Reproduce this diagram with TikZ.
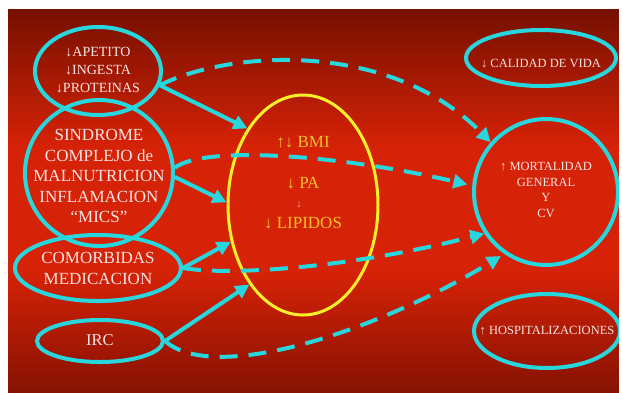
\documentclass[tikz,border=0pt]{standalone}
\usepackage{fontspec}
\setmainfont{Liberation Serif}
\usetikzlibrary{shapes.geometric,arrows.meta}

\definecolor{ringcyan}{RGB}{40,215,222}
\definecolor{ovalyellow}{RGB}{250,240,40}
\definecolor{txtyellow}{RGB}{240,195,40}
\definecolor{txtwhite}{RGB}{248,228,228}
\definecolor{txtpink}{RGB}{240,160,170}
\definecolor{slidetop}{RGB}{118,16,0}
\definecolor{slidemid}{RGB}{214,34,6}
\definecolor{slidebot}{RGB}{135,18,2}

\begin{document}
\begin{tikzpicture}[x=1pt,y=-1pt,
  ring/.style={draw=ringcyan,line width=4pt,ellipse,inner sep=0pt},
  lbl/.style={text=txtwhite,align=center},
  ylbl/.style={text=txtyellow,font=\fontsize{17}{20}\selectfont},
  link/.style={draw=ringcyan,line width=4pt,-{Triangle[length=14pt,width=14pt]}},
  dlink/.style={link,dash pattern=on 18pt off 11pt}]
  \useasboundingbox (0,0) rectangle (623,392);
  \fill[white] (0,0) rectangle (623,392);
  % slide background, dark at top and bottom
  \fill[slidemid] (8,150) rectangle (619,272);
  \foreach \s in {0,...,46}{
    \pgfmathtruncatemacro\p{100-\s*100/46}
    \fill[slidetop!\p!slidemid] (8,{9+3*\s}) rectangle (619,{12.5+3*\s});
  }
  \foreach \s in {0,...,40}{
    \pgfmathtruncatemacro\p{\s*100/40}
    \fill[slidebot!\p!slidemid] (8,{270+3*\s}) rectangle (619,{273.5+3*\s});
  }
  \begin{scope}
  \clip (8,9) rectangle (619,392);
  % left side
  \node[ring,minimum width=126pt,minimum height=88pt] (apet) at (98,71) {};
  \node[lbl,font=\fontsize{14}{18}\selectfont] (apettxt) at (98,70) {↓APETITO\\↓INGESTA\\↓PROTEINAS};
  \node[ring,minimum width=148pt,minimum height=146pt] (sind) at (99,173) {};
  \node[lbl,font=\fontsize{17}{20.5}\selectfont] (sindtxt) at (99,176) {SINDROME\\COMPLEJO de\\MALNUTRICION\\INFLAMACION\\“MICS”};
  \node[ring,minimum width=166pt,minimum height=66pt] (com) at (98,268) {};
  \node[lbl,font=\fontsize{17}{21}\selectfont] (comtxt) at (98,268) {COMORBIDAS\\MEDICACION};
  \node[ring,minimum width=126pt,minimum height=42pt] (irc) at (100,341) {};
  \node[lbl,font=\fontsize{16.5}{20}\selectfont] (irctxt) at (100,340) {IRC};
  % middle
  \node[draw=ovalyellow,line width=3pt,ellipse,minimum width=150pt,minimum height=220pt] (nutr) at (303,205) {};
  \node[ylbl] (bmi) at (303,142) {↑↓ BMI};
  \node[ylbl] (pa) at (303,183) {↓ PA};
  \node[text=txtpink,font=\fontsize{11}{12}\selectfont] (dn) at (299,205) {↓};
  \node[ylbl] (lip) at (303,223) {↓ LIPIDOS};
  % right side
  \node[ring,minimum width=150pt,minimum height=56pt] (cal) at (541,58) {};
  \node[lbl,font=\fontsize{12.5}{15}\selectfont] (caltxt) at (541,64) {↓ CALIDAD DE VIDA};
  \node[ring,minimum width=144pt,minimum height=146pt] (mort) at (546,192) {};
  \node[lbl,font=\fontsize{12.5}{15.7}\selectfont] (morttxt) at (546,190) {↑ MORTALIDAD\\GENERAL\\Y\\CV};
  \node[ring,minimum width=146pt,minimum height=74pt] (hosp) at (547,331) {};
  \node[lbl,font=\fontsize{12.5}{15}\selectfont] (hosptxt) at (547,331) {↑ HOSPITALIZACIONES};
  % arrows
  \draw[link] (apet.-13) -- (nutr.126);
  \draw[link] (sind.-3) -- (nutr.178);
  \draw[link] (com.east) -- (nutr.207);
  \draw[link] (irc.east) -- (nutr.236);
  \draw[dlink] (apet.-13) .. controls (230,50) and (390,40) .. (mort.138);
  \draw[dlink,shorten >=5pt] (sind.4) .. controls (205,145) and (340,155) .. (mort.175);
  \draw[dlink] (com.east) .. controls (230,276) and (350,268) .. (mort.214);
  \draw[dlink,shorten >=4pt] (irc.east) .. controls (215,385) and (380,330) .. (mort.236);
  \end{scope}
\end{tikzpicture}
\end{document}
